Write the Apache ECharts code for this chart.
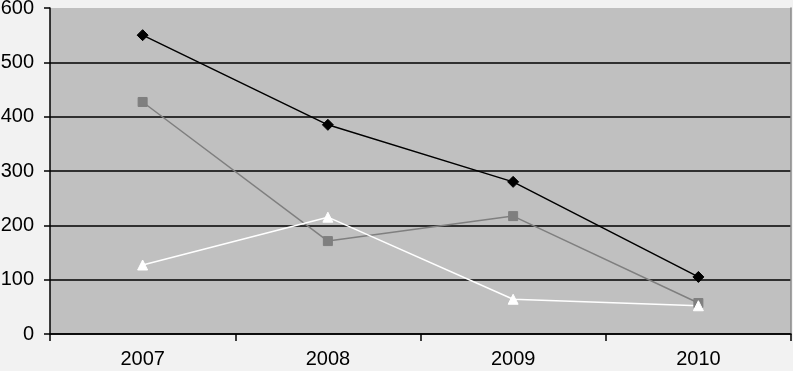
<!DOCTYPE html>
<html>
<head>
<meta charset="utf-8">
<script src="https://cdn.jsdelivr.net/npm/echarts@6/dist/echarts.min.js"></script>
<style>
  html, body { margin: 0; padding: 0; background: #f2f2f2; }
  #chart { width: 793px; height: 371px; }
</style>
</head>
<body>
<div id="chart"></div>
<script>
const years = ['2007', '2008', '2009', '2010'];
const seriesBlack = [550, 385, 280, 105];
const seriesGray = [427, 171, 217, 57];
const seriesWhite = [127, 215, 64, 52];

const mkSeries = (data, color, symbol, size) => ({
    type: 'line',
    data: data,
    symbol: symbol,
    symbolSize: size,
    showSymbol: true,
    lineStyle: { color: color, width: 1.5 },
    itemStyle: { color: color, borderColor: color },
    emphasis: { disabled: true },
});

const option = {
    backgroundColor: '#f2f2f2',
    animation: false,
    textStyle: { fontFamily: 'Liberation Sans, Arial, sans-serif' },
    grid: {
        left: 50,
        right: 2,
        top: 8,
        bottom: 37,
        containLabel: false,
        outerBoundsMode: 'none',
        show: true,
        backgroundColor: '#c0c0c0',
        borderWidth: 0,
    },
    xAxis: {
        type: 'category',
        data: years,
        boundaryGap: true,
        axisLine: { lineStyle: { color: '#000', width: 1.5 } },
        axisTick: { show: true, length: 7, lineStyle: { color: '#000', width: 1.5 } },
        axisLabel: { color: '#000', fontSize: 20, margin: 15 },
        splitLine: { show: false },
    },
    yAxis: [
        {
            type: 'value',
            min: 0,
            max: 600,
            interval: 100,
            axisLine: { show: true, lineStyle: { color: '#000', width: 1.5 } },
            axisTick: { show: true, length: 6, lineStyle: { color: '#000', width: 1.5 } },
            axisLabel: { color: '#000', fontSize: 20, margin: 16 },
            splitLine: { show: true, showMaxLine: false, lineStyle: { color: '#000', width: 1.5 } },
        },
        {
            // right edge of the plot area
            type: 'value',
            position: 'right',
            min: 0,
            max: 600,
            interval: 100,
            axisLine: { show: true, lineStyle: { color: '#8a8a8a', width: 1.5 } },
            axisTick: { show: false },
            axisLabel: { show: false },
            splitLine: { show: false },
        },
    ],
    series: [
        mkSeries(seriesBlack, '#000000', 'diamond', 11),
        mkSeries(seriesGray, '#7f7f7f', 'rect', 9),
        mkSeries(seriesWhite, '#ffffff', 'triangle', 10),
    ],
};

let myChart = echarts.init(document.getElementById('chart'));
myChart.setOption(option);
</script>
</body>
</html>
